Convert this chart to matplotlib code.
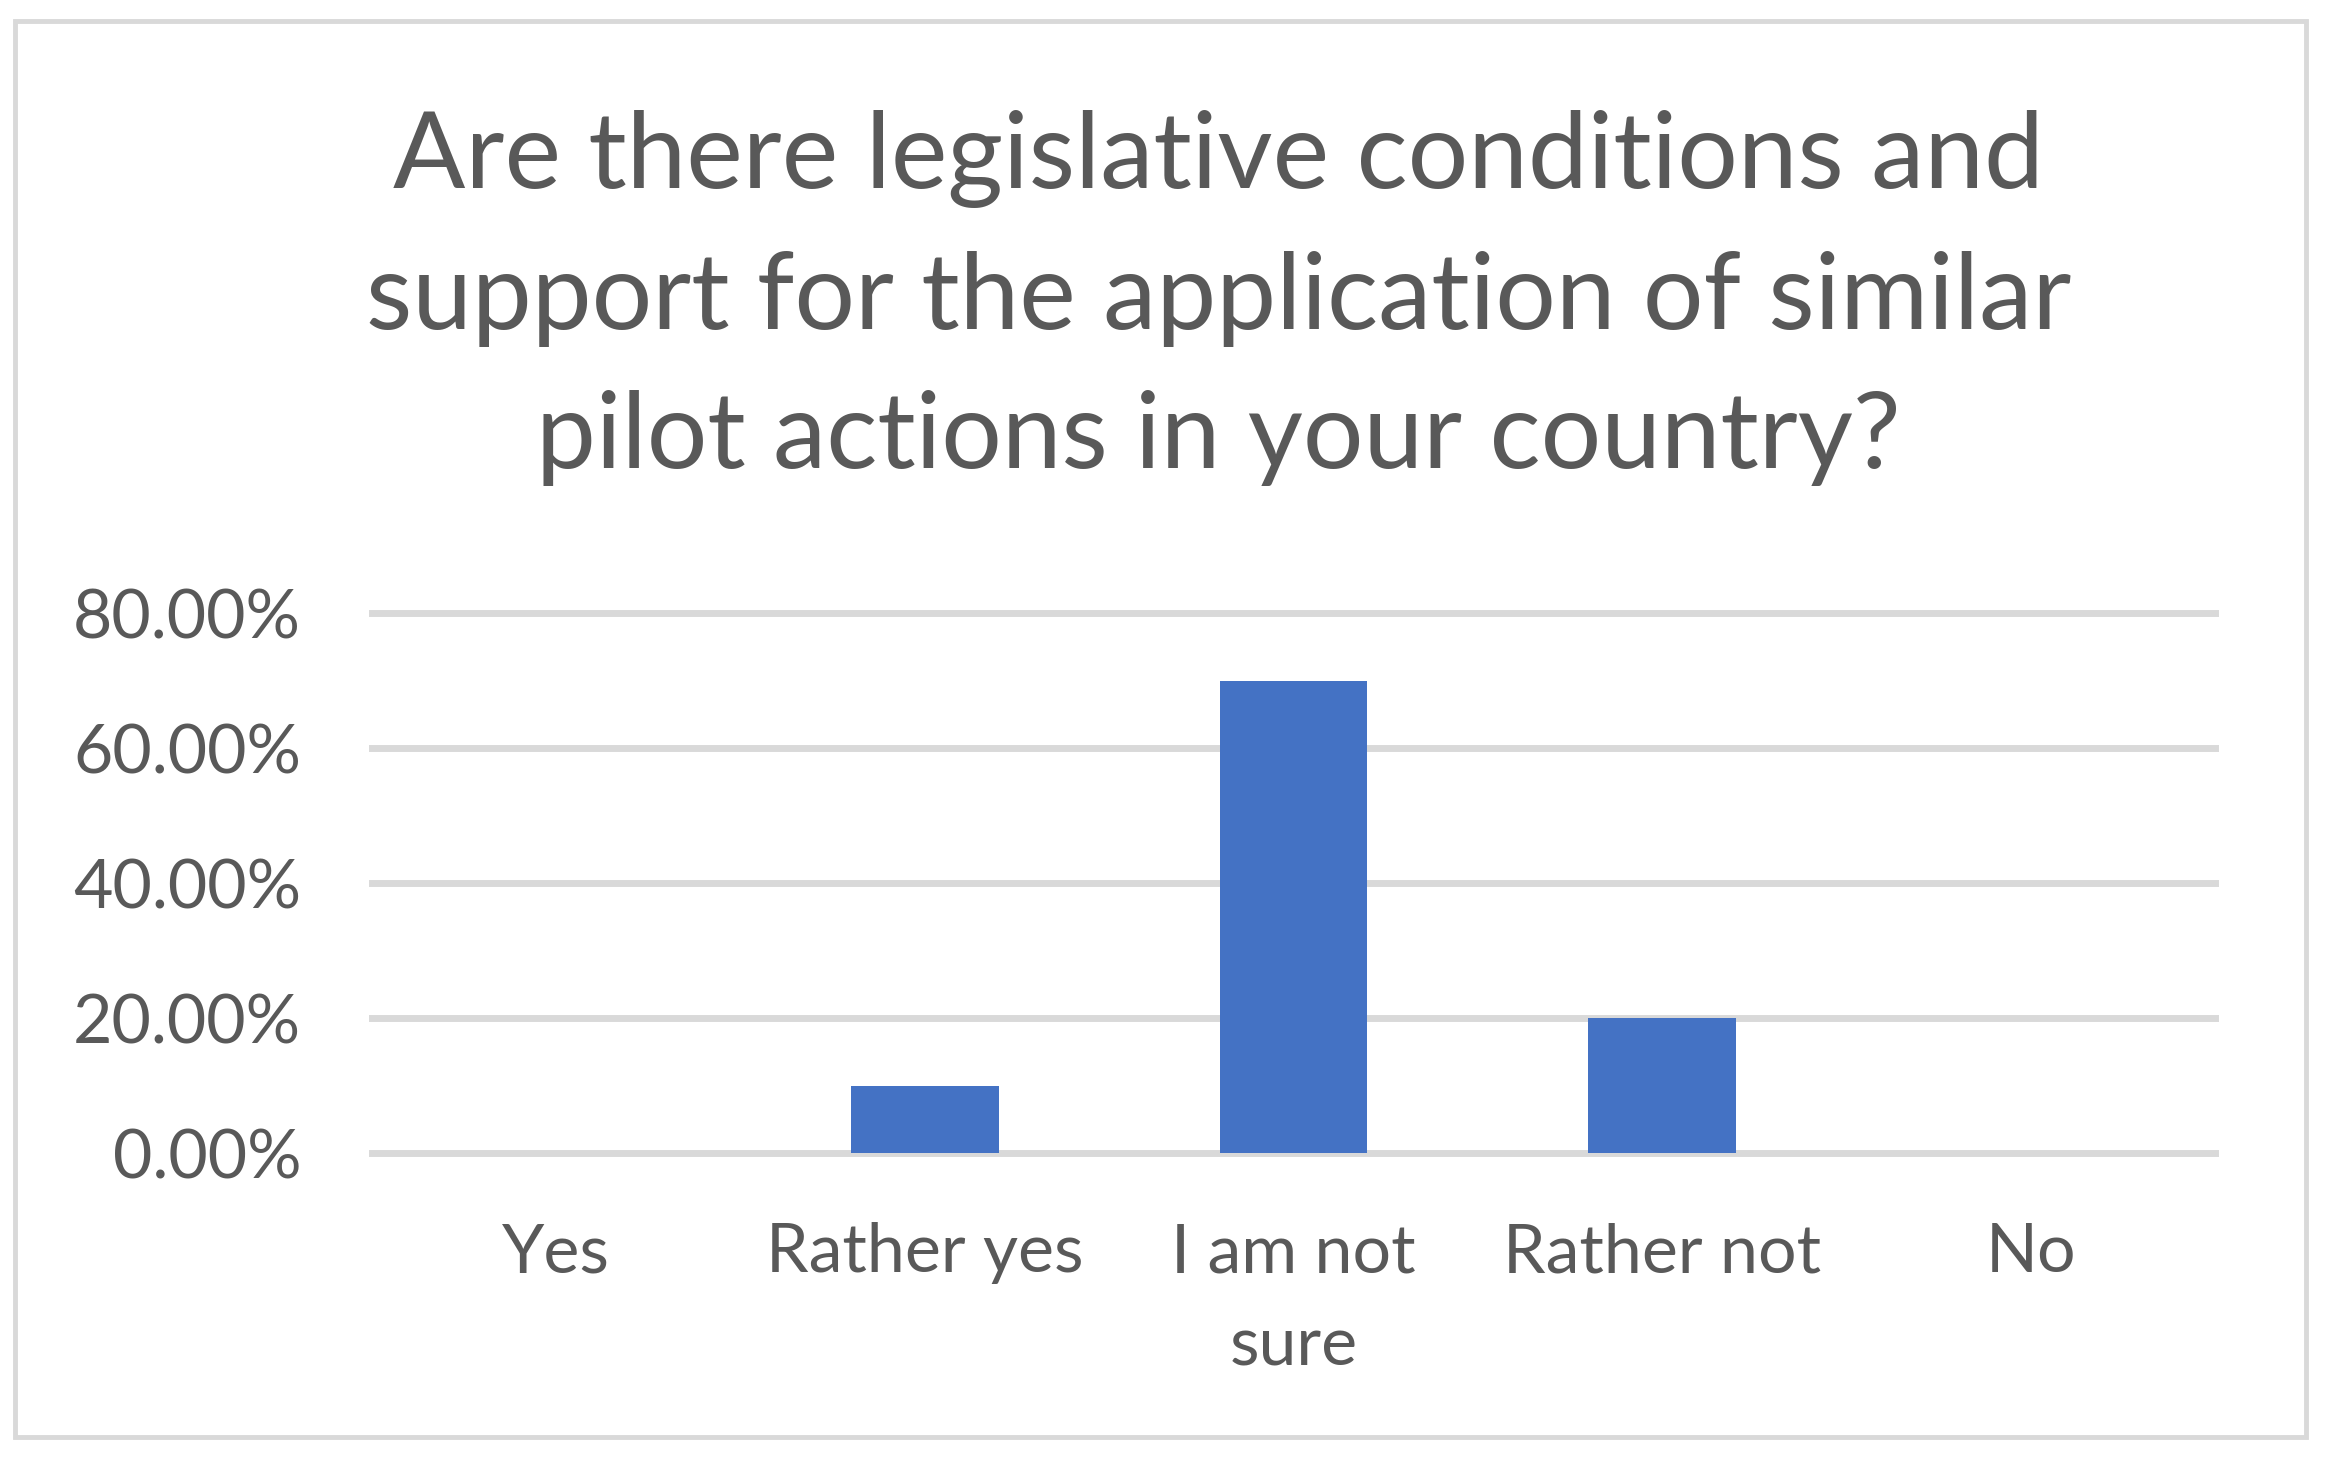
import matplotlib.pyplot as plt
import matplotlib.ticker as mticker
from matplotlib.patches import Rectangle

categories = ["Yes", "Rather yes", "I am not\nsure", "Rather not", "No"]
shares = [0.0, 0.10, 0.70, 0.20, 0.0]
title = ("Are there legislative conditions and\n"
         "support for the application of similar\n"
         "pilot actions in your country?")

text_color = "#595959"
grid_color = "#D9D9D9"
bar_color = "#4472C4"

plt.rcParams["font.family"] = ["Lato", "DejaVu Sans"]

fig = plt.figure(figsize=(23.25, 14.69), dpi=100)
ax = fig.add_axes([0.16, 0.2151, 0.7927, 0.3676])

x = range(len(categories))
ax.bar(x, shares, width=0.4, color=bar_color, zorder=3)

ax.set_xlim(-0.5, len(categories) - 0.5)
ax.set_ylim(0, 0.8)
ax.yaxis.set_major_locator(mticker.MultipleLocator(0.2))
ax.yaxis.set_major_formatter(mticker.PercentFormatter(1.0, decimals=2))
ax.set_xticks(list(x))
ax.set_xticklabels(categories, linespacing=1.62)

ax.grid(axis="y", color=grid_color, linewidth=5)
for line in ax.get_ygridlines():
    line.set_clip_on(False)
ax.set_axisbelow(True)

for s in ax.spines.values():
    s.set_visible(False)
ax.tick_params(axis="both", length=0, labelsize=49, labelcolor=text_color)
ax.tick_params(axis="y", pad=51)
ax.tick_params(axis="x", pad=50)

fig.text(0.524, 1 - 468 / 1469, title, ha="center", va="baseline",
         fontsize=77, color=text_color, linespacing=1.55)

fig.patches.append(Rectangle((15 / 2325, 1 - 1437 / 1469), 2291 / 2325, 1416 / 1469,
                             transform=fig.transFigure, fill=False,
                             edgecolor=grid_color, linewidth=3.5))

fig.savefig("out.png", dpi=100)
